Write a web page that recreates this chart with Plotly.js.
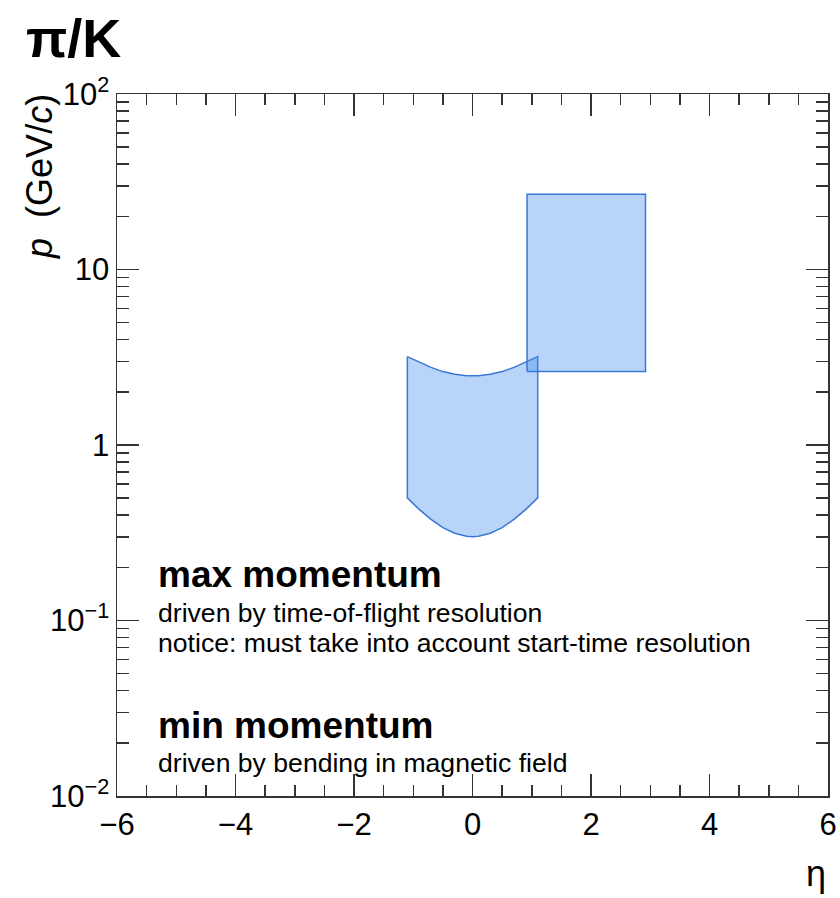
<!DOCTYPE html>
<html>
<head>
<meta charset="utf-8">
<script src="https://cdn.plot.ly/plotly-3.0.1.min.js"></script>
<style>html,body{margin:0;padding:0;background:#fff;}#chart{width:840px;height:898px;}</style>
</head>
<body>
<div id="chart"></div>
<script>
// Barrel band (|eta| < 1.1): max and min momentum
const etaBand  = [-1.1, -0.9, -0.7, -0.5, -0.3, -0.1, 0.0, 0.1, 0.3, 0.5, 0.7, 0.9, 1.1];
const pMaxBand = [3.19, 2.96, 2.77, 2.62, 2.53, 2.48, 2.47, 2.48, 2.53, 2.62, 2.77, 2.96, 3.19];
const pMinBand = [0.50, 0.43, 0.377, 0.338, 0.314, 0.302, 0.30, 0.302, 0.314, 0.338, 0.377, 0.43, 0.50];
// Forward region rectangle
const etaRect = [0.92, 2.92];
const pRect   = [2.62, 26.8];
// Axis ticks
const xTickVals = [-6, -4, -2, 0, 2, 4, 6];
const xTickText = ['\u22126', '\u22124', '\u22122', '0', '2', '4', '6'];
const yTickVals = [0.01, 0.1, 1, 10, 100];
const yTickText = ['10<sup>\u22122</sup>', '10<sup>\u22121</sup>', '1', '10', '10<sup>2</sup>'];
const yMinorVals = [];
[0.01, 0.1, 1, 10].forEach(d => { for (let k = 2; k <= 9; k++) yMinorVals.push(d * k); });
// Texts
const titleText = '<b>\u03c0/K</b>';
const yTitle = '<i>p</i>  (GeV/<i>c</i>)';
const xTitle = '\u03b7';
const notes = [
  {text: '<b>max momentum</b>', size: 37, y: 0.3162},
  {text: 'driven by time-of-flight resolution', size: 26.6, y: 0.2607},
  {text: 'notice: must take into account start-time resolution', size: 26.6, y: 0.2179},
  {text: '<b>min momentum</b>', size: 37, y: 0.1011},
  {text: 'driven by bending in magnetic field', size: 26.6, y: 0.0470}
];

const fillCol = 'rgba(59,137,235,0.36)';
const lineCol = '#3a78d6';

const bandX = etaBand.concat(etaBand.slice().reverse()).concat([etaBand[0]]);
const bandY = pMaxBand.concat(pMinBand.slice().reverse()).concat([pMaxBand[0]]);
const rectX = [etaRect[0], etaRect[1], etaRect[1], etaRect[0], etaRect[0]];
const rectY = [pRect[0], pRect[0], pRect[1], pRect[1], pRect[0]];

const traces = [
  {x: bandX, y: bandY, mode: 'lines', fill: 'toself', fillcolor: fillCol,
   line: {color: lineCol, width: 1.5}, hoverinfo: 'skip', showlegend: false},
  {x: rectX, y: rectY, mode: 'lines', fill: 'toself', fillcolor: fillCol,
   line: {color: lineCol, width: 1.5}, hoverinfo: 'skip', showlegend: false}
];

const FONT = 'Liberation Sans, Arial, Helvetica, sans-serif';
const axisCol = '#333333';

const annotations = notes.map(n => ({
  xref: 'paper', yref: 'paper', x: 0.0549, y: n.y, xanchor: 'left', yanchor: 'middle',
  text: n.text, showarrow: false, font: {family: FONT, size: n.size, color: '#000'}
}));
annotations.push({xref: 'paper', yref: 'paper', x: -0.131, y: 1.0798, xanchor: 'left', yanchor: 'middle',
  text: titleText, showarrow: false, font: {family: FONT, size: 54, color: '#000'}});
annotations.push({xref: 'paper', yref: 'paper', x: -0.110, y: 0.883, xanchor: 'center', yanchor: 'middle',
  text: yTitle, textangle: -90, showarrow: false, font: {family: FONT, size: 36, color: '#000'}});
annotations.push({xref: 'paper', yref: 'paper', x: 1.0, y: -0.111, xanchor: 'right', yanchor: 'middle',
  text: xTitle, showarrow: false, font: {family: FONT, size: 36, color: '#000'}});

const layout = {
  width: 840, height: 898,
  margin: {l: 117, r: 12, t: 94, b: 102},
  paper_bgcolor: '#fff', plot_bgcolor: '#fff',
  font: {family: FONT, color: '#000'},
  showlegend: false,
  xaxis: {
    range: [-6, 6], showgrid: false, zeroline: false,
    showline: true, linecolor: axisCol, linewidth: 1.5, mirror: 'ticks',
    ticks: 'inside', ticklen: 22, tickwidth: 1.5, tickcolor: axisCol,
    tickmode: 'array', tickvals: xTickVals, ticktext: xTickText,
    tickfont: {family: FONT, size: 31, color: '#000'},
    minor: {ticks: 'inside', dtick: 0.5, tick0: 0, ticklen: 11, tickwidth: 1.5, tickcolor: axisCol, showgrid: false}
  },
  yaxis: {
    type: 'log', range: [-2, 2], showgrid: false, zeroline: false,
    showline: true, linecolor: axisCol, linewidth: 1.5, mirror: 'ticks',
    ticks: 'inside', ticklen: 22, tickwidth: 1.5, tickcolor: axisCol,
    tickmode: 'array', tickvals: yTickVals, ticktext: yTickText,
    tickfont: {family: FONT, size: 31, color: '#000'},
    minor: {ticks: 'inside', tickmode: 'array', tickvals: yMinorVals, ticklen: 12, tickwidth: 1.5, tickcolor: axisCol, showgrid: false}
  },
  annotations: annotations
};

Plotly.newPlot('chart', traces, layout, {staticPlot: true, displayModeBar: false});
</script>
</body>
</html>
